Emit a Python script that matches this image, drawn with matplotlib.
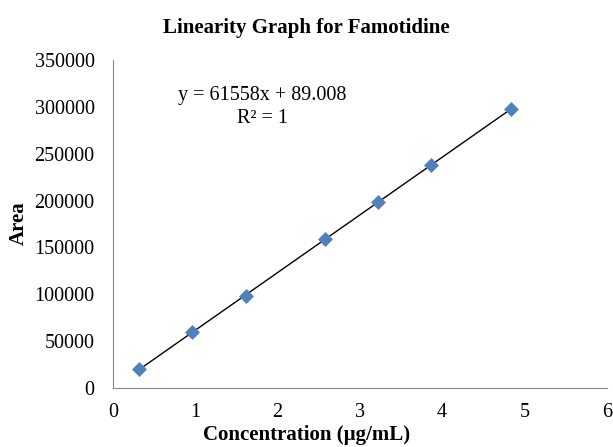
import numpy as np
import matplotlib.pyplot as plt

plt.rcParams['font.family'] = ['Liberation Serif', 'DejaVu Serif']

# concentration (ug/mL) and peak area
conc = [0.322, 0.967, 1.612, 2.579, 3.224, 3.869, 4.836]
area = [19900, 59700, 98600, 158800, 198400, 238300, 297500]
xticks = [0, 1, 2, 3, 4, 5, 6]
yticks = [0, 50000, 100000, 150000, 200000, 250000, 300000, 350000]

fig = plt.figure(figsize=(6.13, 4.47), dpi=100)
ax = fig.add_axes([0.184, 0.132, 0.806, 0.734])

#linear trendline over the data range
m, b = np.polyfit(conc, area, 1)
xs = np.array([conc[0], conc[-1]])
ax.plot(xs, m*xs + b, color='black', linewidth=1, zorder=2)
ax.scatter(conc, area, marker='D', s=58, color='#4f81bd', zorder=3, linewidths=0)

ax.set_xlim(0, 6)
ax.set_ylim(0, 350000)
ax.set_xticks(xticks)
ax.set_yticks(yticks)
ax.tick_params(axis='y', length=0, labelsize=14.5, pad=13)
ax.tick_params(axis='x', length=0, labelsize=14.5, pad=11)
for s in ['top', 'right']:
    ax.spines[s].set_visible(False)
for s in ['left', 'bottom']:
    ax.spines[s].set_color('#868686')

ax.text(1.82, 300000, 'y = 61558x + 89.008\nR² = 1', ha='center', va='center',
        fontsize=14.5, linespacing=1.25)

fig.text(0.5, 0.937, 'Linearity Graph for Famotidine', ha='center', va='center',
         fontsize=15, fontweight='bold')
fig.text(0.5, 0.026, 'Concentration (µg/mL)', ha='center', va='center',
         fontsize=15, fontweight='bold')
fig.text(0.03, 0.5, 'Area', ha='center', va='center', rotation=90,
         fontsize=15, fontweight='bold')

plt.savefig('out.png', dpi=100)
